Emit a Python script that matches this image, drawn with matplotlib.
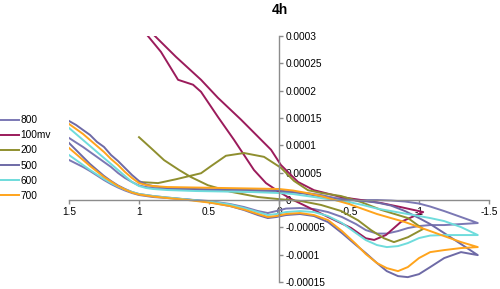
import matplotlib.pyplot as plt

plt.rcParams['font.family'] = ['Liberation Sans', 'DejaVu Sans']

# potential grids shared by the 800/500/600/700 loops (V)
x_fwd = [1.5, 1.45, 1.4, 1.35, 1.3, 1.25, 1.2, 1.15, 1.1, 1.05, 1.0, 0.9, 0.8, 0.65, 0.5,
         0.35, 0.25, 0.15, 0.08, 0.02, -0.05, -0.15, -0.25, -0.35, -0.45, -0.55, -0.62,
         -0.7, -0.77, -0.85, -0.92, -1.0, -1.08, -1.18, -1.3, -1.42]
x_rev = [-1.42, -1.3, -1.18, -1.08, -1.0, -0.9, -0.8, -0.7, -0.6, -0.5, -0.4, -0.3, -0.2,
         -0.1, 0.0, 0.2, 0.4, 0.6, 0.8, 0.9, 0.95, 1.0, 1.05, 1.1, 1.15, 1.2, 1.25, 1.3,
         1.35, 1.4, 1.45, 1.5]

# currents in units of 1e-5
i800_fwd = [7.33, 6.69, 6.05, 5.31, 4.49, 3.66, 2.93, 2.29, 1.74, 1.28, 0.92, 0.55, 0.37,
            0.09, -0.18, -0.73, -1.28, -2.02, -2.38, -2.02, -1.56, -1.47, -1.65, -2.20,
            -3.11, -4.40, -5.50, -6.14, -6.14, -5.68, -5.13, -4.76, -4.58, -4.58, -4.40, -4.21]
i800_rev = [-4.21, -3.11, -2.02, -1.19, -0.64, -0.27, -0.09, 0.0, 0.0, 0.09, 0.37, 0.92,
            1.28, 1.37, 1.47, 1.56, 1.65, 1.83, 2.02, 2.20, 2.38, 2.66, 3.30, 4.03, 4.95,
            6.05, 6.96, 7.88, 8.79, 9.71, 10.53, 11.36]

i500_fwd = [10.44, 9.16, 7.88, 6.60, 5.50, 4.40, 3.48, 2.66, 2.02, 1.47, 1.10, 0.73, 0.46,
            0.09, -0.37, -1.10, -1.83, -2.75, -3.30, -3.11, -2.75, -2.56, -2.93, -4.03,
            -6.05, -8.24, -9.71, -11.54, -13.01, -13.92, -14.11, -13.56, -12.27, -10.62,
            -9.53, -10.08]
i500_rev = [-10.08, -8.06, -6.05, -4.40, -3.30, -2.02, -1.01, -0.46, -0.18, 0.0, 0.18, 0.64,
            1.10, 1.47, 1.74, 1.83, 1.92, 2.02, 2.20, 2.56, 2.84, 3.48, 4.58, 5.86, 7.14,
            8.24, 9.71, 10.63, 11.91, 12.82, 13.74, 14.47]

i600_fwd = [8.24, 7.33, 6.41, 5.50, 4.67, 3.85, 3.11, 2.47, 1.92, 1.47, 1.10, 0.73, 0.46,
            0.09, -0.27, -0.82, -1.47, -2.20, -2.75, -2.56, -2.20, -2.02, -2.20, -2.93,
            -4.21, -6.05, -7.33, -8.24, -8.61, -8.43, -7.88, -6.96, -6.50, -6.41, -6.41, -6.41]
i600_rev = [-6.41, -4.95, -3.85, -3.30, -2.93, -2.47, -2.02, -1.56, -0.92, -0.37, 0.0, 0.37,
            0.73, 1.10, 1.28, 1.47, 1.56, 1.65, 1.83, 2.02, 2.20, 2.56, 3.30, 4.40, 5.50,
            6.60, 7.69, 8.79, 9.89, 10.99, 12.09, 13.19]

i700_fwd = [9.53, 8.43, 7.33, 6.23, 5.22, 4.21, 3.39, 2.56, 1.92, 1.37, 1.01, 0.64, 0.37,
            0.0, -0.46, -1.10, -1.74, -2.56, -3.11, -2.93, -2.56, -2.38, -2.75, -3.66,
            -5.68, -8.06, -9.89, -11.54, -12.46, -13.01, -12.27, -10.62, -9.53, -9.16,
            -8.79, -8.61]
i700_rev = [-8.61, -7.69, -6.60, -5.68, -4.95, -4.03, -3.30, -2.56, -1.65, -0.73, 0.0, 0.73,
            1.28, 1.74, 2.02, 2.11, 2.20, 2.29, 2.38, 2.56, 2.75, 3.11, 4.03, 5.13, 6.41,
            7.51, 8.79, 9.89, 10.99, 12.09, 13.01, 13.92]

# 100mv loop
x_100 = [0.936, 0.843, 0.721, 0.614, 0.557, 0.436, 0.321, 0.179, 0.093, 0.0, -0.086, -0.207,
         -0.35, -0.514, -0.62, -0.68, -0.764, -0.871, -1.03, -0.871, -0.729, -0.586, -0.443,
         -0.25, -0.136, -0.014, 0.057, 0.271, 0.436, 0.557, 0.736, 0.886]
i_100 = [30.0, 27.1, 22.0, 21.1, 19.8, 15.2, 11.0, 5.5, 3.1, 1.5, 0.2, -1.3, -3.1, -5.1,
         -7.0, -7.3, -6.4, -4.0, -2.2, -1.3, -0.55, 0.0, 0.55, 1.8, 3.3, 6.4, 9.2, 14.7,
         18.7, 22.0, 26.2, 30.0]

# 200 loop
x_200 = [1.0, 0.914, 0.821, 0.714, 0.629, 0.507, 0.343, 0.15, 0.007, -0.157, -0.3, -0.443,
         -0.564, -0.657, -0.75, -0.821, -0.921, -1.029, -0.921, -0.729, -0.586, -0.443, -0.3,
         -0.207, -0.107, -0.014, 0.107, 0.25, 0.379, 0.486, 0.557, 0.736, 0.864, 1.0]
i_200 = [11.5, 9.5, 7.3, 5.5, 4.2, 2.7, 1.5, 0.55, 0.18, -0.18, -0.9, -2.0, -3.7, -5.5,
         -7.0, -7.7, -6.8, -5.3, -3.3, -1.8, -0.37, 0.73, 1.3, 1.8, 3.5, 5.9, 7.9, 8.6, 8.1,
         6.2, 4.9, 3.8, 3.1, 3.3]

labels = ['800', '100mv', '200', '500', '600', '700']
colors = ['#7b78b4', '#9b1b5b', '#8f8f2f', '#6e6aa6', '#6fdcdc', '#ffa41c']

xticks = [1.5, 1, 0.5, 0, -0.5, -1, -1.5]
xtick_labels = ['1.5', '1', '0.5', '0', '-0.5', '-1', '-1.5']
yticks = [-0.00015, -0.0001, -0.00005, 0, 0.00005, 0.0001, 0.00015, 0.0002, 0.00025, 0.0003]
ytick_labels = ['-0.00015', '-0.0001', '-0.00005', '0', '0.00005', '0.0001', '0.00015',
                '0.0002', '0.00025', '0.0003']

series = [
    (x_fwd + x_rev, i800_fwd + i800_rev),
    (x_100, i_100),
    (x_200, i_200),
    (x_fwd + x_rev, i500_fwd + i500_rev),
    (x_fwd + x_rev, i600_fwd + i600_rev),
    (x_fwd + x_rev, i700_fwd + i700_rev),
]

fig = plt.figure(figsize=(5, 2.89), dpi=100)
ax = fig.add_axes([0.138, 0.0242, 0.84, 0.851])

for (xs, ys), lab, col in zip(series, labels, colors):
    ax.plot(xs, [v * 1e-5 for v in ys], color=col, lw=1.4, label=lab)

ax.set_xlim(1.5, -1.5)
ax.set_ylim(-0.00015, 0.0003)

ax.spines['top'].set_visible(False)
ax.spines['left'].set_visible(False)
ax.spines['right'].set_position(('data', 0))
ax.spines['bottom'].set_position(('data', 0))
for s in ['right', 'bottom']:
    ax.spines[s].set_color('#8c8c8c')
    ax.spines[s].set_linewidth(1.0)

ax.yaxis.tick_right()
ax.set_xticks(xticks)
ax.set_xticklabels(xtick_labels)
ax.set_yticks(yticks)
ax.set_yticklabels(ytick_labels)
ax.tick_params(axis='both', labelsize=7.3, colors='#8c8c8c', labelcolor='black',
               length=3, width=1.0, direction='out', pad=2)

fig.text(0.56, 0.965, '4h', ha='center', va='center', fontsize=10, fontweight='bold')

fig.legend(loc='upper left', bbox_to_anchor=(0.0, 0.601), frameon=False, fontsize=7.3,
           handlelength=1.9, handletextpad=0.1, labelspacing=0.5, borderaxespad=0,
           borderpad=0)

fig.savefig('out.png', dpi=100)
